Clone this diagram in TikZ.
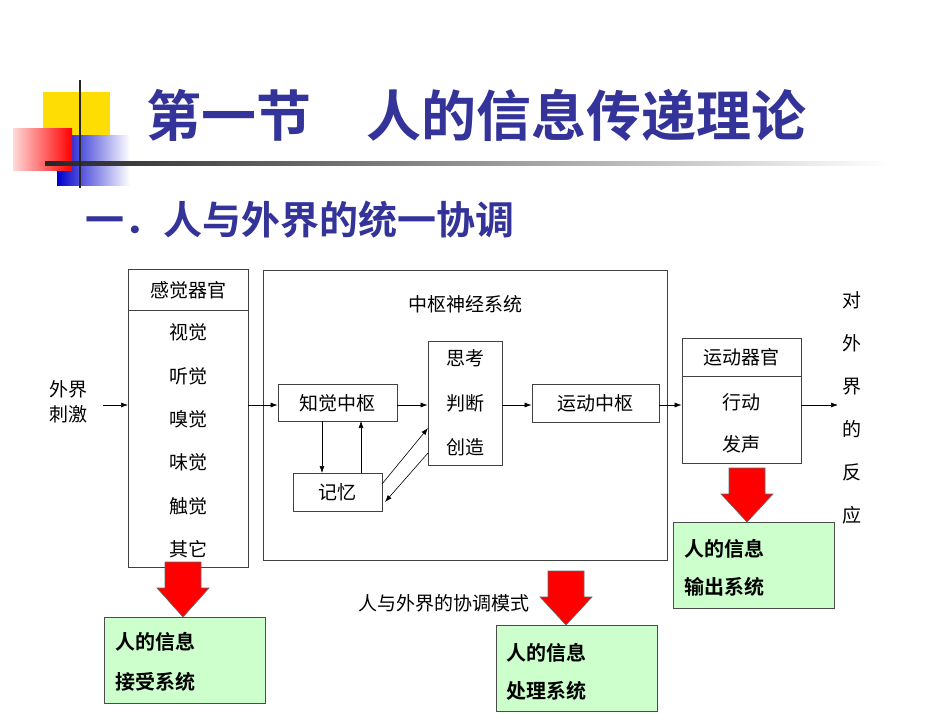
\documentclass[tikz,border=0pt]{standalone}
\usepackage{fontspec}
\setmainfont{Liberation Serif}
\newfontfamily\cjk{Noto Sans CJK SC}
\newfontfamily\cjkb{Noto Sans CJK SC Bold}
\usetikzlibrary{arrows.meta}
\definecolor{tblue}{HTML}{333399}
\definecolor{gfill}{HTML}{CCFFCC}
\begin{document}
\begin{tikzpicture}[x=1pt,y=-1pt,
  lbl/.style={font=\cjk\fontsize{19}{22}\selectfont,inner sep=0pt},
  bx/.style={draw=black!75,line width=0.8pt},
  ar/.style={-{Latex[length=7pt,width=5pt]},line width=0.6pt},
  gbox/.style={draw=black!70,fill=gfill,line width=0.8pt,minimum width=161pt,minimum height=86pt},
  gt/.style={font=\cjkb\fontsize{20}{24}\selectfont,inner sep=0pt,anchor=west},
  redar/.style={draw=black!60,fill=red,line width=0.6pt}
]
\useasboundingbox (0,0) rectangle (950,713);
\fill[white] (0,0) rectangle (950,713);
% decoration
\fill[yellow!80!orange] (43,92) rectangle (110,160);
\shade[left color=blue!80!black,right color=white] (57,135) rectangle (130,185);
\shade[left color=red!15,right color=red] (13,128) rectangle (72,170);
\shade[left color=black!85,right color=white] (45,161.5) rectangle (890,165);
\draw[line width=2pt,black!85] (80,80) -- (80,188);
% titles
\node[font=\cjkb\fontsize{55}{60}\selectfont,text=tblue,inner sep=0pt] (title) at (476,115) {第一节　人的信息传递理论};
\node[font=\cjkb\fontsize{39}{44}\selectfont,text=tblue,inner sep=0pt,anchor=west] (sub) at (85,220) {一．人与外界的统一协调};
% sensory
\node[bx,minimum width=120pt,minimum height=298pt] (sens) at (188,418) {};
\draw[bx] (128,310) -- (248,310);
\node[lbl] (sh) at (188,290) {感觉器官};
\node[lbl] at (188,332) {视觉};
\node[lbl] at (188,376) {听觉};
\node[lbl] at (188,419) {嗅觉};
\node[lbl] at (188,462) {味觉};
\node[lbl] at (188,506) {触觉};
\node[lbl] at (188,549) {其它};
% external
\node[lbl,align=center] (ext) at (68,402) {外界\\[3pt]刺激};
% central
\node[bx,minimum width=404pt,minimum height=290pt] (cns) at (465,415) {};
\node[lbl] at (465,304) {中枢神经系统};
\node[bx,minimum width=119pt,minimum height=37pt,lbl] (zj) at (337.5,403) {知觉中枢};
\node[bx,minimum width=74pt,minimum height=124pt] (sk) at (465,403) {};
\node[lbl] at (465,358) {思考};
\node[lbl] at (465,403) {判断};
\node[lbl] at (465,447) {创造};
\node[bx,minimum width=89pt,minimum height=38pt,lbl] (jy) at (337.5,492) {记忆};
\node[bx,minimum width=127pt,minimum height=38pt,lbl] (yd) at (595.5,403) {运动中枢};
% motor organ
\node[bx,minimum width=119pt,minimum height=125pt] (mo) at (741.5,400.5) {};
\draw[bx] (682,376) -- (801,376);
\node[lbl] at (741.5,357) {运动器官};
\node[lbl] at (741.5,402) {行动};
\node[lbl] at (741.5,444) {发声};
% reaction
\node[lbl,align=center] (re) at (852,408) {对\\[21pt]外\\[21pt]界\\[21pt]的\\[21pt]反\\[21pt]应};
\coordinate (ein) at (103,405);
\coordinate (eout) at (838,405);
% connectors
\draw[ar] (ein) -- (128,405);
\draw[ar] (248,405) -- (zj.west|-0,405);
\draw[ar] (zj.east|-0,405) -- (sk.west|-0,405);
\draw[ar] (sk.east|-0,405) -- (yd.west|-0,405);
\draw[ar] (yd.east|-0,405) -- (mo.west|-0,405);
\draw[ar] (mo.east|-0,405) -- (eout);
\draw[ar] (322,421) -- (322,473);
\draw[ar] (361,473) -- (361,421);
\draw[ar] (382,484) -- (428,428);
\draw[ar] (428,453) -- (385,502);
% caption
\node[lbl] (cap) at (444,603) {人与外界的协调模式};
% red arrows
\foreach \cx/\ty/\by in {183/562/617, 566/571/625, 747/468/522}{
  \draw[redar] (\cx-18,\ty) -- (\cx+18,\ty) -- (\cx+18,\ty+26) -- (\cx+26,\ty+26) -- (\cx,\by) -- (\cx-26,\ty+26) -- (\cx-18,\ty+26) -- cycle;
}
% green boxes
\node[gbox] (g1) at (185,660) {};
\node[gt] at (115,642) {人的信息};
\node[gt] at (115,682) {接受系统};
\node[gbox] (g2) at (576.5,668.5) {};
\node[gt] at (506,653) {人的信息};
\node[gt] at (506,691) {处理系统};
\node[gbox] (g3) at (754,565) {};
\node[gt] at (684,549) {人的信息};
\node[gt] at (684,587) {输出系统};
\end{tikzpicture}
\end{document}
